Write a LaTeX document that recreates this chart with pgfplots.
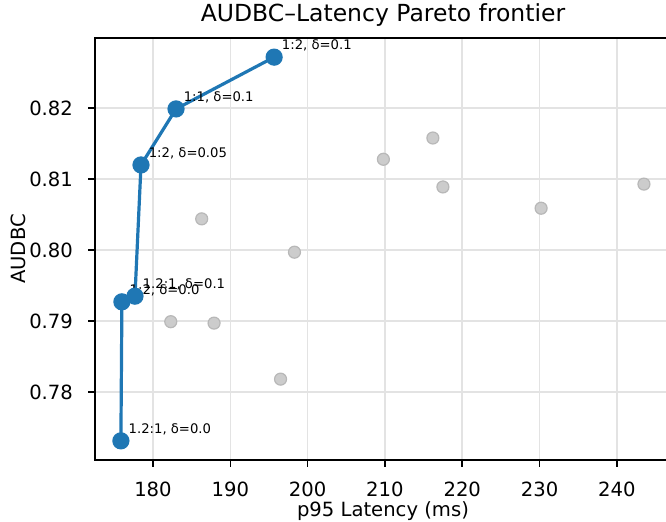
\documentclass[border=0pt]{standalone}
\usepackage{fontspec}
\setmainfont{DejaVu Sans}
\usepackage{pgfplots}
\pgfplotsset{compat=1.18}
\definecolor{mplblue}{HTML}{1F77B4}

\newcommand{\lblfont}{\fontsize{19.6bp}{23bp}\selectfont}
\newcommand{\ttlfont}{\fontsize{23.5bp}{27bp}\selectfont}
\newcommand{\annfont}{\fontsize{13.2bp}{15bp}\selectfont}

\begin{document}
\begin{tikzpicture}
\begin{axis}[
    name=ax,
    scale only axis,
    width=576bp,
    height=422bp,
    xmin=172.5, xmax=247.0,
    ymin=0.7704, ymax=0.8299,
    xtick={180,190,200,210,220,230,240},
    ytick={0.78,0.79,0.80,0.81,0.82},
    /pgf/number format/assume math mode=true,
    tick label style={font=\lblfont},
    xticklabel style={anchor=base, inner sep=0pt, yshift=-29.3bp},
    yticklabel style={anchor=east, inner sep=0pt, xshift=-15bp,
        /pgf/number format/fixed, /pgf/number format/fixed zerofill,
        /pgf/number format/precision=2},
    tick align=outside,
    tick pos=left,
    major tick length=6.9bp,
    every tick/.style={black, line width=1.5bp},
    axis line style={line width=1.5bp},
    grid=major,
    major grid style={color=black!11, line width=1.5bp},
    title={AUDBC–Latency Pareto frontier},
    title style={font=\ttlfont, at={(axis description cs:0.5,1)}, anchor=base, inner sep=0pt, yshift=11bp},
    xlabel={p95 Latency (ms)},
    xlabel style={font=\lblfont, at={(axis description cs:0.5,0)}, anchor=base, inner sep=0pt, yshift=-56.5bp},
    ylabel={AUDBC},
    ylabel style={font=\lblfont, at={(axis description cs:0,0.5)}, anchor=base, inner sep=0pt, yshift=69bp},
]
% dominated configurations
\addplot[only marks, mark=*, mark size=6bp,
    mark options={fill=black!20, draw=black!28, line width=1.2bp}] coordinates {
    (182.3,0.7899)
    (187.9,0.7897)
    (186.3,0.8044)
    (198.3,0.7997)
    (196.5,0.7818)
    (209.8,0.8128)
    (216.2,0.8158)
    (217.5,0.8089)
    (230.2,0.8059)
    (243.5,0.8093)
};
% Pareto frontier
\addplot[mplblue, line width=3.2bp, mark=*, mark size=7bp,
    mark options={fill=mplblue, draw=none}] coordinates {
    (175.85,0.7731)
    (175.98,0.7927)
    (177.67,0.7935)
    (178.45,0.8120)
    (182.98,0.8199)
    (195.67,0.8272)
};
\begin{scope}[every node/.style={font=\annfont, anchor=base west, inner sep=0pt, xshift=7.6bp, yshift=7.4bp}]
\node at (axis cs:175.85,0.7731) {1.2:1, δ=0.0};
\node at (axis cs:175.98,0.7927) {1:2, δ=0.0};
\node at (axis cs:177.67,0.7935) {1.2:1, δ=0.1};
\node at (axis cs:178.45,0.8120) {1:2, δ=0.05};
\node at (axis cs:182.98,0.8199) {1:1, δ=0.1};
\node at (axis cs:195.67,0.8272) {1:2, δ=0.1};
\end{scope}
\end{axis}
\pgfresetboundingbox
\path[use as bounding box] ([xshift=-95bp,yshift=-62bp]ax.south west) rectangle ([xshift=571bp,yshift=38bp]ax.north west);
\end{tikzpicture}
\end{document}
